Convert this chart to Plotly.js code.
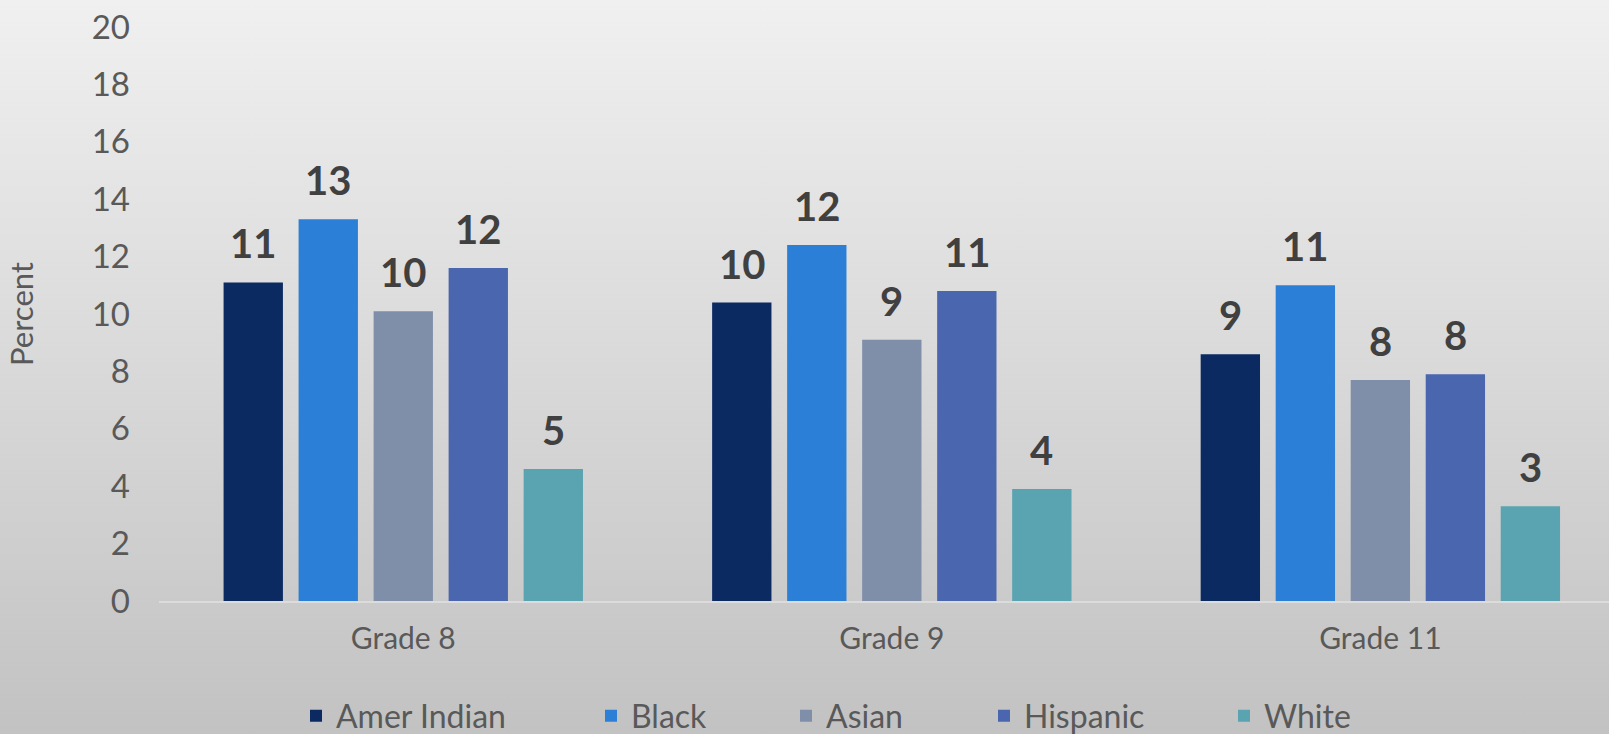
<!DOCTYPE html>
<html>
<head>
<meta charset="utf-8">
<script src="https://cdn.plot.ly/plotly-3.0.1.min.js"></script>
<style>
  html, body { margin: 0; padding: 0; }
  body { width: 1609px; height: 734px; background: linear-gradient(to bottom, #f0f0f0 0%, #c2c2c2 100%); }
  #chart { width: 1609px; height: 734px; }
</style>
</head>
<body>
<div id="chart"></div>
<script>
// ---- data ----
const grades = ["Grade 8", "Grade 9", "Grade 11"];
const seriesNames = ["Amer Indian", "Black", "Asian", "Hispanic", "White"];
const amerIndian = [11.1, 10.4, 8.6];
const black = [13.3, 12.4, 11.0];
const asian = [10.1, 9.1, 7.7];
const hispanic = [11.6, 10.8, 7.9];
const white = [4.6, 3.9, 3.3];
const yTicks = [0, 2, 4, 6, 8, 10, 12, 14, 16, 18, 20];

// ---- styling ----
const seriesValues = [amerIndian, black, asian, hispanic, white];
const colors = ["#0b2a62", "#2b7fd7", "#7f8fa9", "#4a66ae", "#5aa3b0"];
const FONT = "Lato, 'Open Sans', sans-serif";
const bargap = 0.2323;
const bargroupgap = 0.209;

const legendIds = ["legend", "legend2", "legend3", "legend4", "legend5"];
const legendTextStart = [336, 631, 826, 1024, 1264];

const traces = seriesNames.map((name, i) => ({
  type: "bar",
  name: name,
  x: grades,
  y: seriesValues[i],
  marker: { color: colors[i], line: { width: 0 } },
  legend: legendIds[i],
  hoverinfo: "x+y+name"
}));

// data labels above each bar, placed at the bar's slot centre on the category axis
const nS = seriesNames.length;
const slot = (1 - bargap) / nS;
const annotations = [];
seriesValues.forEach((vals, i) => {
  vals.forEach((v, j) => {
    annotations.push({
      x: j - (1 - bargap) / 2 + (i + 0.5) * slot,
      y: v,
      xref: "x", yref: "y",
      text: String(Math.round(v)),
      showarrow: false,
      yanchor: "bottom",
      xanchor: "center",
      yshift: 13,
      font: { family: FONT, size: 40, color: "#404040", weight: 700 }
    });
  });
});

const W = 1609, H = 734;
const layout = {
  width: W, height: H,
  margin: { l: 159, r: 0, t: 27, b: 133, pad: 0 },
  paper_bgcolor: "rgba(0,0,0,0)",
  plot_bgcolor: "rgba(0,0,0,0)",
  barmode: "group",
  bargap: bargap,
  bargroupgap: bargroupgap,
  font: { family: FONT, color: "#595959" },
  xaxis: {
    type: "category",
    range: [-0.5, 2.468],
    showgrid: false, zeroline: false,
    showline: true, linecolor: "#dcdcdc", linewidth: 2,
    ticks: "",
    ticklabelstandoff: 10,
    tickfont: { family: FONT, size: 30, color: "#595959" },
    fixedrange: true
  },
  yaxis: {
    range: [0, 20],
    tickvals: yTicks,
    ticktext: yTicks.map(String),
    showgrid: false, zeroline: false, showline: false,
    ticks: "",
    ticklabelstandoff: 28,
    tickfont: { family: FONT, size: 33, color: "#595959" },
    title: { text: "Percent", font: { family: FONT, size: 31, color: "#595959" }, standoff: 48 },
    fixedrange: true
  },
  annotations: annotations,
  showlegend: true
};

legendIds.forEach((id, i) => {
  layout[id] = {
    orientation: "h",
    xref: "container", yref: "container",
    x: (legendTextStart[i] - 40) / W,
    y: 1 - 716 / H,
    xanchor: "left", yanchor: "middle",
    bgcolor: "rgba(0,0,0,0)",
    borderwidth: 0,
    font: { family: FONT, size: 32, color: "#595959" }
  };
});

Plotly.newPlot("chart", traces, layout, { displayModeBar: false, staticPlot: true });
</script>
</body>
</html>
